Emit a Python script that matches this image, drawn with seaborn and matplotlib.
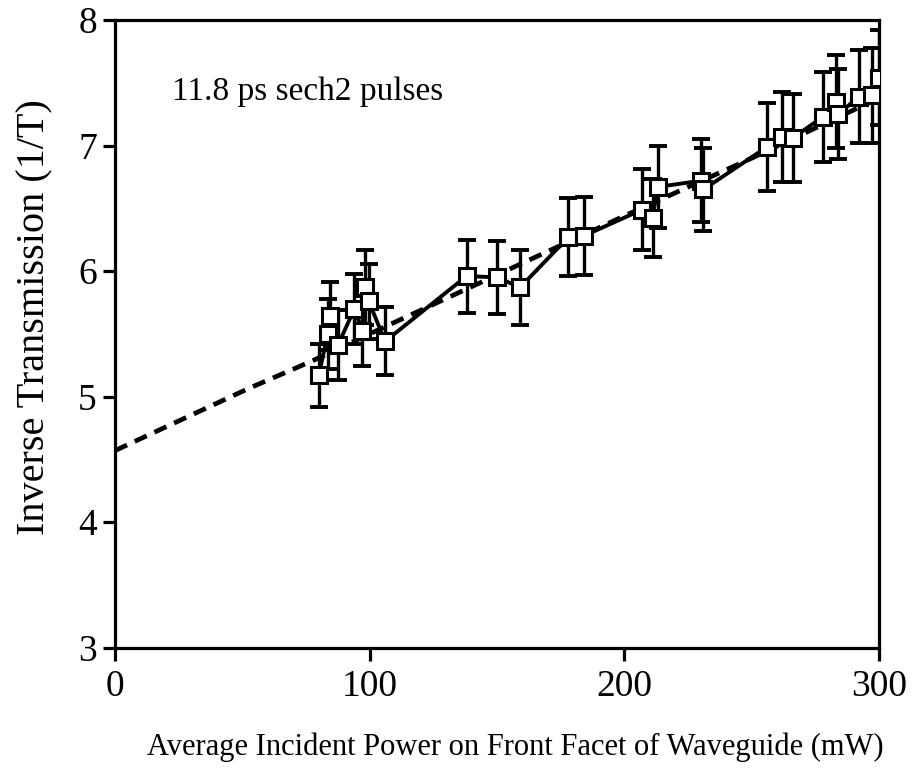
import matplotlib
matplotlib.use("Agg")
import matplotlib.pyplot as plt
import seaborn as sns
import pandas as pd

# measured data (power in mW, inverse transmission, error)
power = [80, 83.5, 84.3, 87.5, 94, 97, 98, 99.6, 106, 138, 150, 159, 178, 184,
         207, 211, 213, 230, 231, 256, 262, 266, 278, 283, 284, 292, 297, 300]
inv_t = [5.17, 5.50, 5.64, 5.41, 5.70, 5.52, 5.87, 5.76, 5.44, 5.96, 5.95, 5.87,
         6.27, 6.28, 6.49, 6.42, 6.67, 6.72, 6.65, 6.99, 7.07, 7.06, 7.23, 7.35,
         7.25, 7.39, 7.40, 7.54]
err = [0.25, 0.28, 0.27, 0.28, 0.28, 0.28, 0.30, 0.30, 0.27, 0.29, 0.29, 0.30,
       0.31, 0.31, 0.32, 0.31, 0.33, 0.33, 0.33, 0.35, 0.36, 0.35, 0.36, 0.37,
       0.36, 0.37, 0.38, 0.38]

# model (dashed) curve
model_power = [0, 18, 36, 53, 69, 78, 100, 150, 200, 250, 300]
model_inv_t = [4.57, 4.74, 4.91, 5.07, 5.21, 5.29, 5.50, 5.97, 6.44, 6.90, 7.38]

x_ticks = [0, 100, 200, 300]
y_ticks = [3, 4, 5, 6, 7, 8]

sns.set_theme(style="ticks")
plt.rcParams['font.family'] = ['Liberation Serif', 'DejaVu Serif']

fig = plt.figure(figsize=(9.13, 7.71), dpi=100)
ax = fig.add_axes([0.126, 0.160, 0.837, 0.814])

data = pd.DataFrame({"power": power, "inv_t": inv_t})
model = pd.DataFrame({"power": model_power, "inv_t": model_inv_t})

sns.lineplot(data=model, x="power", y="inv_t", ax=ax, color="black",
             linewidth=3.4, linestyle=(0, (2.8, 1.8)), zorder=2)

ax.errorbar(power, inv_t, yerr=err, fmt="none", ecolor="black",
            elinewidth=2.4, capsize=6.5, capthick=2.8, zorder=3)

sns.lineplot(data=data, x="power", y="inv_t", ax=ax, color="black",
             linewidth=2.8, marker="s", markersize=12,
             markerfacecolor="white", markeredgecolor="black",
             markeredgewidth=2.2, sort=True, zorder=4)

ax.set_xlim(0, 300)
ax.set_ylim(3, 8)
ax.set_xticks(x_ticks)
ax.set_yticks(y_ticks)
ax.set_xticklabels([str(v) for v in x_ticks])
ax.set_yticklabels([str(v) for v in y_ticks])

for s in ax.spines.values():
    s.set_visible(True)
    s.set_linewidth(2.3)
    s.set_color("black")

ax.tick_params(axis="both", direction="out", length=9, width=2.3,
               labelsize=27, colors="black")
ax.tick_params(axis="x", pad=7)
ax.tick_params(axis="y", pad=4)

ax.set_xlabel("Average Incident Power on Front Facet of Waveguide (mW)",
              fontsize=22, labelpad=20, color="black")
ax.xaxis.label.set_x(0.524)
ax.set_ylabel("Inverse Transmission (1/T)", fontsize=29, labelpad=18,
              color="black")
ax.yaxis.label.set_y(0.527)

ax.text(0.075, 0.885, "11.8 ps sech2 pulses", transform=ax.transAxes,
        fontsize=24, color="black", ha="left", va="center")

fig.savefig("out.png", dpi=100)
